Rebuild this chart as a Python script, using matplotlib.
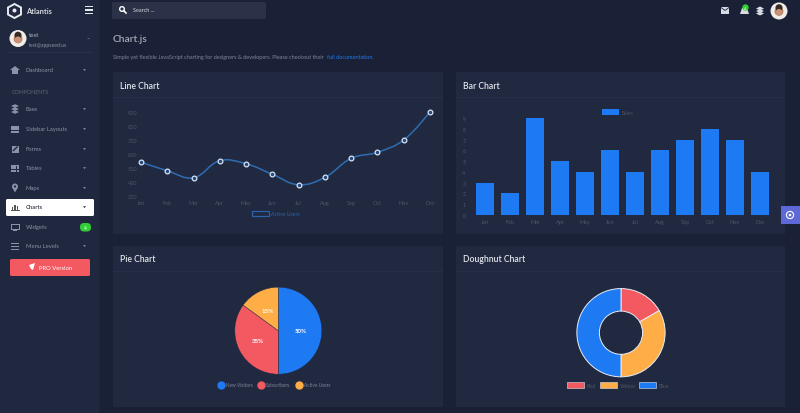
import matplotlib
matplotlib.use("Agg")
import matplotlib.pyplot as plt
from matplotlib.patches import Circle, FancyBboxPatch, PathPatch, Polygon, Rectangle
from matplotlib.path import Path
from matplotlib.lines import Line2D

plt.rcParams["font.family"] = ["Lato", "DejaVu Sans"]

W, H = 800, 414

months = ["Jan", "Feb", "Mar", "Apr", "May", "Jun", "Jul", "Aug", "Sep", "Oct", "Nov", "Dec"]
line_values = [540, 478, 428, 550, 528, 453, 378, 431, 567, 610, 698, 900]
line_ticks = [300, 400, 500, 600, 700, 800, 900]
bar_values = [3, 2, 9, 5, 4, 6, 4, 6, 7, 8, 7, 4]
bar_ticks = [0, 1, 2, 3, 4, 5, 6, 7, 8, 9]
pie_labels = ["New Visitors", "Subscribers", "Active Users"]
pie_values = [50, 35, 15]
doughnut_labels = ["Red", "Yellow", "Blue"]
doughnut_values = [10, 20, 30]
menu_items = ["Dashboard", "Base", "Sidebar Layouts", "Forms", "Tables", "Maps", "Charts", "Widgets", "Menu Levels"]
menu_rows = [71, 110, 130, 150, 169, 189, 208, 228, 247]

PAGE = "#1a2035"
SIDE = "#1f283e"
CARD = "#202940"
BLUE = "#1d7af3"
RED = "#f25961"
ORANGE = "#ffad46"
MUTED = "#8b92a9"
TICK = "#4e5569"

fig = plt.figure(figsize=(W / 100, H / 100), dpi=100, facecolor=PAGE)

# whole page in pixel coordinates, y pointing down
bg = fig.add_axes([0, 0, 1, 1])
bg.set_xlim(0, W)
bg.set_ylim(H, 0)
bg.axis("off")


def px_axes(left, top, right, bottom):
    ax = fig.add_axes([left / W, 1 - bottom / H, (right - left) / W, (bottom - top) / H])
    ax.patch.set_alpha(0)
    for s in ax.spines.values():
        s.set_visible(False)
    return ax


def box(x0, y0, x1, y1, color, z=1):
    bg.add_patch(Rectangle((x0, y0), x1 - x0, y1 - y0, fc=color, ec="none", zorder=z))


def rbox(x0, y0, x1, y1, color, r=1.5, z=2):
    bg.add_patch(FancyBboxPatch((x0 + r, y0 + r), x1 - x0 - 2 * r, y1 - y0 - 2 * r,
                                boxstyle=f"round,pad={r}", fc=color, ec="none", zorder=z))


def avatar(x, y, r):
    bg.add_patch(Circle((x, y), r, fc="#f1ece8", ec="none", zorder=4))
    bg.add_patch(Circle((x, y + r * 0.05), r * 0.52, fc="#b98468", ec="none", zorder=5))
    bg.add_patch(Circle((x, y - r * 0.38), r * 0.42, fc="#3a2a24", ec="none", zorder=6))
    bg.add_patch(Circle((x, y + r * 0.12), r * 0.36, fc="#c99378", ec="none", zorder=7))


def icon(name, x, y, c):
    if name == "Dashboard":
        bg.add_patch(Polygon([(x - 5, y), (x, y - 4), (x + 5, y)], fc=c, ec="none", zorder=4))
        box(x - 3, y, x + 3, y + 3.5, c, 4)
    elif name == "Base":
        for dy in (-3, 0, 3):
            bg.add_patch(Polygon([(x - 4, y + dy), (x, y + dy - 1.8), (x + 4, y + dy), (x, y + dy + 1.8)],
                                 fc=c, ec="none", zorder=4))
    elif name in ("Sidebar Layouts", "Tables"):
        box(x - 4, y - 3.5, x + 4, y + 3.5, c, 4)
        for dy in (-1.2, 1.2):
            box(x - 4, y + dy - 0.3, x + 4, y + dy + 0.3, SIDE, 5)
        box(x - 1.5, y - 2, x - 1, y + 3.5, SIDE, 5)
        if name == "Tables":
            box(x + 1, y - 2, x + 1.5, y + 3.5, SIDE, 5)
    elif name == "Forms":
        box(x - 3.5, y - 3.5, x + 3.5, y + 3.5, c, 4)
        bg.plot([x - 1.5, x + 2], [y + 1.5, y - 2], color=SIDE, lw=1, zorder=5)
    elif name == "Maps":
        bg.add_patch(Polygon([(x - 2.8, y - 0.5), (x + 2.8, y - 0.5), (x, y + 4.5)], fc=c, ec="none", zorder=4))
        bg.add_patch(Circle((x, y - 1.5), 3, fc=c, ec="none", zorder=4))
        bg.add_patch(Circle((x, y - 1.5), 1.1, fc=SIDE, ec="none", zorder=5))
    elif name == "Charts":
        for dx, h in zip((-2.5, 0, 2.5), (3, 5, 4)):
            box(x + dx - 0.6, y + 3 - h, x + dx + 0.6, y + 3, c, 4)
        box(x - 4.5, y + 3, x + 4.5, y + 3.6, c, 4)
    elif name == "Widgets":
        box(x - 4.5, y - 3.5, x + 4.5, y + 2.5, c, 4)
        box(x - 3.5, y - 2.5, x + 3.5, y + 1.5, SIDE, 5)
        box(x - 2, y + 2.5, x + 2, y + 3.6, c, 4)
    else:
        for dy in (-3, 0, 3):
            box(x - 4, y + dy - 0.5, x + 4, y + dy + 0.5, c, 4)


# layout blocks
box(0, 0, 100, H, SIDE)
box(99, 0, 100, H, "#1c243a", 2)
for x0, y0, x1, y1 in [(113, 73, 443, 235), (456, 73, 785, 235), (113, 247, 443, 408), (456, 247, 785, 408)]:
    box(x0, y0, x1, y1, CARD)
    box(x0, y0 + 25, x1, y0 + 25.6, "#262f48", 2)

# brand and top bar
bg.add_patch(Polygon([(14.5, 5), (21, 8.5), (21, 15.5), (14.5, 19), (8, 15.5), (8, 8.5)], fc="none", ec="#e8eaf0", lw=1.4, zorder=4))
bg.add_patch(Circle((14.5, 11.5), 2, fc="#e8eaf0", ec="none", zorder=4))
bg.text(26, 12, "Atlantis", color="#d8dbe3", fontsize=5.3, fontweight="bold", va="center", zorder=4)
for y in (7.5, 11, 14.5):
    box(84.5, y - 0.6, 93, y + 0.6, "#e8eaf0", 4)
rbox(112, 3, 266, 20, "#2b3146")
bg.add_patch(Circle((122, 10), 2.3, fc="none", ec="white", lw=1, zorder=4))
bg.plot([123.8, 126], [11.8, 14], color="white", lw=1.2, zorder=4)
bg.text(133, 11, "Search ...", color="#d6d8df", fontsize=4, va="center", zorder=4)
box(721, 8, 729, 14.5, "#d8dbe3", 4)
bg.plot([721, 725, 729], [8.5, 11.5, 8.5], color=PAGE, lw=0.6, zorder=5)
bg.add_patch(Polygon([(740, 15), (749, 15), (747, 9), (742, 9)], fc="#d8dbe3", ec="none", zorder=4))
bg.add_patch(Circle((745.5, 8.5), 3.2, fc="#31ce36", ec="none", zorder=5))
bg.text(745.5, 8.5, "4", color="white", fontsize=3, ha="center", va="center", zorder=6)
for dy in (-2.5, 0, 2.5):
    bg.add_patch(Polygon([(756, 12 + dy), (760, 10 + dy), (764, 12 + dy), (760, 14 + dy)], fc="#d8dbe3", ec="none", zorder=4))
avatar(779, 12, 8.5)

# user block
avatar(18, 39.5, 8.5)
bg.text(29, 35.5, "test", color="#b4b8c6", fontsize=4.4, va="center", zorder=4)
bg.text(29, 45.5, "test@appseed.us", color=MUTED, fontsize=3.7, va="center", zorder=4)
bg.text(88, 39, "-", color=MUTED, fontsize=6, ha="center", va="center", zorder=4)
box(8, 53, 92, 53.5, "#283149", 2)

# sidebar menu
bg.text(12, 93, "COMPONENTS", color="#5e657b", fontsize=3.8, va="center", zorder=4)
rbox(6, 200, 94, 217, "white")
rbox(10, 260, 90, 277, RED)
for name, y in zip(menu_items, menu_rows):
    active = name == "Charts"
    col = "#555" if active else MUTED
    icon(name, 15, y, col)
    bg.text(26, y, name, color="#444a5a" if active else MUTED, fontsize=4.2,
            fontweight="bold" if active else "normal", va="center", zorder=4)
    if name == "Widgets":
        rbox(80, 224, 91, 232.5, "#31ce36", r=4)
        bg.text(85.5, 228.2, "4", color="white", fontsize=3.4, ha="center", va="center", zorder=4)
    else:
        bg.add_patch(Polygon([(83, y - 0.8), (86, y - 0.8), (84.5, y + 1)], fc="#222" if active else MUTED, ec="none", zorder=4))
bg.add_patch(Polygon([(29, 266), (35, 264), (33, 271), (31, 270)], fc="white", ec="none", zorder=4))
bg.text(39, 268.5, "PRO Version", color="white", fontsize=4.2, va="center", zorder=4)

# page heading
bg.text(113, 39.5, "Chart.js", color="#a4a9b8", fontsize=7.4, va="center", fontweight="semibold")
bg.text(113, 57.5, "Simple yet flexible JavaScript charting for designers & developers. Please checkout their",
        color="#7f869b", fontsize=4.0, va="center")
bg.text(327, 57.5, "full documentation.", color=BLUE, fontsize=4.0, va="center")
for x, y, title in [(120, 86.5, "Line Chart"), (463, 86.5, "Bar Chart"), (120, 259.5, "Pie Chart"), (463, 259.5, "Doughnut Chart")]:
    bg.text(x, y, title, color="#e6e8ee", fontsize=6.2, va="center", fontweight="semibold", zorder=4)

# settings tab
box(781, 207, 800, 225, "#5c69d6", 5)
bg.add_patch(Circle((790, 216), 3.6, fc="none", ec="white", lw=0.8, zorder=6))
bg.add_patch(Circle((790, 216), 1.3, fc="white", ec="none", zorder=6))

# line chart, bezier control points computed the way Chart.js does (tension 0.4)
ax = px_axes(141, 112.7, 430, 196.7)
ax.set_xlim(0, 11)
ax.set_ylim(300, 900)
xs = list(range(len(months)))
sx, sy = 26.3, 0.14
verts = [(xs[0], line_values[0])]
codes = [Path.MOVETO]
for i in range(len(xs) - 1):
    prev_i, next_i = max(i - 1, 0), min(i + 2, len(xs) - 1)

    def tangent(a, b, c):
        d1 = ((sx * (xs[b] - xs[a])) ** 2 + (sy * (line_values[b] - line_values[a])) ** 2) ** 0.5
        d2 = ((sx * (xs[c] - xs[b])) ** 2 + (sy * (line_values[c] - line_values[b])) ** 2) ** 0.5
        return d1 / (d1 + d2), d2 / (d1 + d2)

    fa = tangent(prev_i, i, i + 1)[1] * 0.4 if i > 0 else 0
    fb = tangent(i, i + 1, next_i)[0] * 0.4 if i + 1 < len(xs) - 1 else 0
    verts.append((xs[i] + fa * (xs[i + 1] - xs[prev_i]), line_values[i] + fa * (line_values[i + 1] - line_values[prev_i])))
    verts.append((xs[i + 1] - fb * (xs[next_i] - xs[i]), line_values[i + 1] - fb * (line_values[next_i] - line_values[i])))
    verts.append((xs[i + 1], line_values[i + 1]))
    codes += [Path.CURVE4] * 3
ax.add_patch(PathPatch(Path(verts, codes), fc="none", ec="#2f6db3", lw=1.1, zorder=3, clip_on=False))
ax.plot(xs, line_values, ls="none", marker="o", ms=3.4, mfc="#27477a", mec="#d5e4f7", mew=0.9, zorder=4, clip_on=False)
ax.set_xticks(xs, months)
ax.set_yticks(line_ticks)
ax.tick_params(length=0, labelsize=4, labelcolor=TICK, pad=3)
ax.grid(color="#232c44", lw=0.4)
ax.set_axisbelow(True)
ax.legend(handles=[Rectangle((0, 0), 1, 1, fc="none", ec="#2a62ad", lw=0.9)], labels=["Active Users"],
          loc="center", bbox_to_anchor=(276 / W, 1 - 214.5 / H), bbox_transform=fig.transFigure, frameon=False,
          fontsize=3.7, labelcolor="#2a62ad", handlelength=3.3, handleheight=1.2, handletextpad=0.5)

# bar chart
ax = px_axes(472.5, 119.3, 772.5, 215.7)
ax.set_xlim(-0.5, 11.5)
ax.set_ylim(0, 9)
ax.bar(months, bar_values, width=0.72, color=BLUE)
ax.set_yticks(bar_ticks)
ax.tick_params(length=0, labelsize=4, labelcolor=TICK, pad=3)
ax.tick_params(axis="y", pad=5)
ax.legend(handles=[Rectangle((0, 0), 1, 1, fc=BLUE)], labels=["Sales"], loc="center",
          bbox_to_anchor=(618 / W, 1 - 113 / H), bbox_transform=fig.transFigure, frameon=False,
          fontsize=3.9, labelcolor=TICK, handlelength=3.1, handleheight=1.4, handletextpad=0.5)

# pie chart
ax = px_axes(278.3 - 43.5, 331.7 - 43.5, 278.3 + 43.5, 331.7 + 43.5)
ax.pie(pie_values, colors=[BLUE, RED, ORANGE], startangle=90, counterclock=False, radius=1,
       autopct="%d%%", pctdistance=0.52, textprops={"color": "white", "fontsize": 4.4, "fontweight": "bold"},
       wedgeprops={"ec": CARD, "lw": 0.3})
ax.set_xlim(-1, 1)
ax.set_ylim(-1, 1)
handles = [Line2D([], [], ls="none", marker="o", ms=5, color=c) for c in (BLUE, RED, ORANGE)]
ax.legend(handles=handles, labels=pie_labels, loc="center", bbox_to_anchor=(274 / W, 1 - 386 / H),
          bbox_transform=fig.transFigure, frameon=False, ncol=3, fontsize=3.4, labelcolor="#7f869b",
          columnspacing=1.2, handletextpad=0.5, handlelength=1.2)

# doughnut chart
ax = px_axes(621 - 45, 333.7 - 45, 621 + 45, 333.7 + 45)
ax.pie(doughnut_values, colors=[RED, ORANGE, BLUE], startangle=90, counterclock=False, radius=1,
       wedgeprops={"width": 0.51, "ec": "#e8edf5", "lw": 0.7})
ax.set_xlim(-1.02, 1.02)
ax.set_ylim(-1.02, 1.02)
handles = [Rectangle((0, 0), 1, 1, fc=c, ec="#dfe4ec", lw=0.4) for c in (RED, ORANGE, BLUE)]
ax.legend(handles=handles, labels=doughnut_labels, loc="center", bbox_to_anchor=(618 / W, 1 - 386 / H),
          bbox_transform=fig.transFigure, frameon=False, ncol=3, fontsize=3.9, labelcolor=TICK,
          columnspacing=0.8, handletextpad=0.4, handlelength=3.1, handleheight=1.3)

fig.savefig("out.png", dpi=100, facecolor=PAGE)
